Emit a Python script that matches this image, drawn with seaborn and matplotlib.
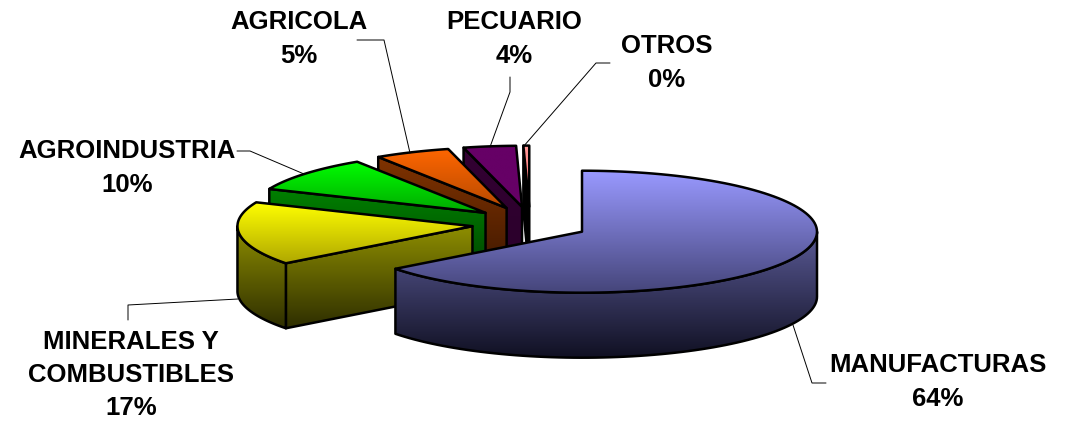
"""Exploded 3D-style pie of exports by sector, built on seaborn blend palettes."""

import numpy as np
import seaborn as sns
import matplotlib.pyplot as plt
from matplotlib.patches import Polygon

# Slice shares (labels are the rounded ones)
categories = ["MANUFACTURAS", "MINERALES Y\nCOMBUSTIBLES", "AGROINDUSTRIA", "AGRICOLA", "PECUARIO", "OTROS"]
shares = [64.6, 16.8, 9.4, 5.2, 3.6, 0.4]
pct_labels = ["64%", "17%", "10%", "5%", "4%", "0%"]

# top face gradient (light, dark), side face gradient (light, dark)
top_colors = [("#9999FF", "#45457A"), ("#FFFF00", "#B0A800"), ("#00FF00", "#00A800"),
              ("#FF6600", "#B84A00"), ("#660066", "#660066"), ("#FF9999", "#FF6666")]
side_colors = [("#5A5A96", "#101022"), ("#8F8F00", "#2E2E00"), ("#008000", "#004000"),
               ("#803300", "#401800"), ("#330033", "#2A002A"), ("#000000", "#000000")]

label_pos = [(938, 382), (131, 375), (127, 168), (299, 39), (514, 39), (667, 63)]
leaders = [
    [(793, 325), (812, 383), (826, 383)],
    [(128, 320), (128, 305), (238, 299)],
    [(237, 151), (250, 151), (304, 174)],
    [(357, 40), (384, 40), (410, 153)],
    [(510, 77), (510, 92), (490, 147)],
    [(610, 63), (596, 63), (523, 147)],
]

CX, CY = 530, 224
RX, RY = 235, 61
DEPTH = 65
EXPLODE = 58
EXPLODE_Y = 0.3

sns.set_theme(style="white")
plt.rcParams["font.family"] = ["Liberation Sans", "DejaVu Sans"]

fig, ax = plt.subplots(figsize=(10.66, 4.22), dpi=100)
fig.subplots_adjust(0, 0, 1, 1)
ax.set_axis_off()


def rim(apex, deg):
    t = np.radians(deg)
    return np.column_stack([apex[0] + RX * np.sin(t), apex[1] - RY * np.cos(t)])


def gradient_face(pts, colors, z):
    # Vertical gradient clipped to the polygon, black outline on top
    pts = np.asarray(pts)
    cmap = sns.blend_palette(colors, as_cmap=True)
    patch = Polygon(pts, closed=True, fc="none", ec="black", lw=1.8, joinstyle="round", zorder=z + 0.1)
    ax.add_patch(patch)
    x0, x1 = pts[:, 0].min(), pts[:, 0].max()
    y0, y1 = pts[:, 1].min(), pts[:, 1].max()
    im = ax.imshow(np.linspace(0, 1, 256)[:, None], cmap=cmap, aspect="auto",
                   extent=[x0, x1, y1, y0], zorder=z)
    im.set_clip_path(patch)


edges = np.cumsum([0] + shares) * 3.6
down = np.array([0, DEPTH])

# Back slices first, so the big front slice covers the hidden parts
for i in range(len(shares) - 1, -1, -1):
    a0, a1 = edges[i], edges[i + 1]
    mid = np.radians((a0 + a1) / 2)
    apex = np.array([CX + EXPLODE * np.sin(mid), CY - EXPLODE * EXPLODE_Y * np.cos(mid)])
    z = 10 * (len(shares) - i)

    # cut face along the first radius (the big slice hides its own)
    if i > 0:
        p = rim(apex, np.array([a0]))[0]
        gradient_face([p, apex, apex + down, p + down], side_colors[i], z)

    # outer wall, only on the part of the rim facing the viewer
    w0, w1 = max(a0, 90), min(a1, 270)
    if w1 > w0:
        arc = rim(apex, np.linspace(w0, w1, 80))
        gradient_face(np.vstack([arc, arc[::-1] + down]), side_colors[i], z + 1)

    # top face
    arc = rim(apex, np.linspace(a0, a1, 120))
    gradient_face(np.vstack([[apex], arc]), top_colors[i], z + 2)

for name, pct, (x, y), pts in zip(categories, pct_labels, label_pos, leaders):
    ax.text(x, y, name + "\n" + pct, ha="center", va="center", fontsize=18.5,
            fontweight="bold", color="black", linespacing=1.48, zorder=100)
    ax.plot(*zip(*pts), color="black", lw=0.7, zorder=100)

ax.set_xlim(0, 1066)
ax.set_ylim(422, 0)

plt.savefig("out.png", dpi=100)
